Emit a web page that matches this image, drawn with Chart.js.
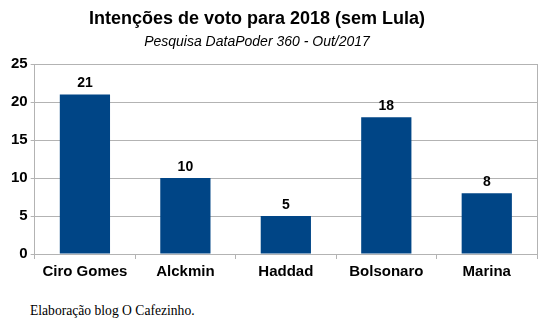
<!DOCTYPE html>
<html>
<head>
<meta charset="utf-8">
<script src="https://cdn.jsdelivr.net/npm/chart.js@4"></script>
<style>
  html, body { margin: 0; padding: 0; background: #fff; }
  #wrap { position: relative; width: 552px; height: 325px; }
  #chart-box { position: absolute; left: 0; top: 0; width: 552px; height: 292px; }
  .head {
    position: absolute; left: 0; width: 514px; text-align: center;
    font-family: "Liberation Sans", Arial, sans-serif; color: #000;
    white-space: nowrap; line-height: 1;
  }
  #title { top: 9px; font-size: 18px; font-weight: bold; }
  #subtitle { top: 34px; font-size: 14px; font-style: italic; }
  #credit {
    position: absolute; left: 30px; top: 304px;
    font-family: "Liberation Serif", "DejaVu Serif", serif;
    font-size: 13.6px; color: #000; line-height: 1;
  }
</style>
</head>
<body>
<div id="wrap">
  <div id="chart-box"><canvas id="chart"></canvas></div>
  <div id="title" class="head">Intenções de voto para 2018 (sem Lula)</div>
  <div id="subtitle" class="head">Pesquisa DataPoder 360 - Out/2017</div>
  <div id="credit">Elaboração blog O Cafezinho.</div>
</div>
<script>
const candidates = ["Ciro Gomes", "Alckmin", "Haddad", "Bolsonaro", "Marina"];
const votes = [21, 10, 5, 18, 8];
const yTicks = [0, 5, 10, 15, 20, 25];

const BAR_COLOR = "#004586";
const GRID_COLOR = "#b3b3b3";
const SANS = "'Liberation Sans', Arial, sans-serif";

// value labels above each bar, plus the right-hand frame line
const barLabels = {
  id: "barLabels",
  afterDatasetsDraw(chart) {
    const ctx = chart.ctx;
    const meta = chart.getDatasetMeta(0);
    ctx.save();
    ctx.font = `bold 14px ${SANS}`;
    ctx.fillStyle = "#000";
    ctx.textAlign = "center";
    ctx.textBaseline = "middle";
    meta.data.forEach((bar, i) => {
      ctx.fillText(String(votes[i]), bar.x, bar.y - 11);
    });
    const area = chart.chartArea;
    ctx.strokeStyle = GRID_COLOR;
    ctx.lineWidth = 1;
    ctx.beginPath();
    ctx.moveTo(Math.round(area.right) + 0.5, area.top);
    ctx.lineTo(Math.round(area.right) + 0.5, area.bottom + 5);
    ctx.stroke();
    ctx.restore();
  },
};

new Chart(document.getElementById("chart"), {
  type: "bar",
  data: {
    labels: candidates,
    datasets: [{
      data: votes,
      backgroundColor: BAR_COLOR,
      borderWidth: 0,
      categoryPercentage: 1,
      barPercentage: 0.5,
    }],
  },
  options: {
    responsive: true,
    maintainAspectRatio: false,
    animation: false,
    layout: { padding: { left: 8, right: 15, top: 64, bottom: 7 } },
    plugins: {
      legend: { display: false },
      tooltip: { enabled: false },
    },
    scales: {
      x: {
        grid: {
          offset: true,
          drawOnChartArea: false,
          drawTicks: true,
          tickLength: 5,
          color: GRID_COLOR,
        },
        border: { color: GRID_COLOR },
        ticks: {
          color: "#000",
          font: { family: SANS, size: 15, weight: "bold" },
          padding: 4,
        },
      },
      y: {
        min: 0,
        max: 25,
        afterBuildTicks(axis) {
          axis.ticks = yTicks.map((v) => ({ value: v }));
        },
        grid: { color: GRID_COLOR, tickLength: 4 },
        border: { color: GRID_COLOR },
        ticks: {
          color: "#000",
          font: { family: SANS, size: 15, weight: "bold" },
          padding: 3,
        },
      },
    },
  },
  plugins: [barLabels],
});
</script>
</body>
</html>
